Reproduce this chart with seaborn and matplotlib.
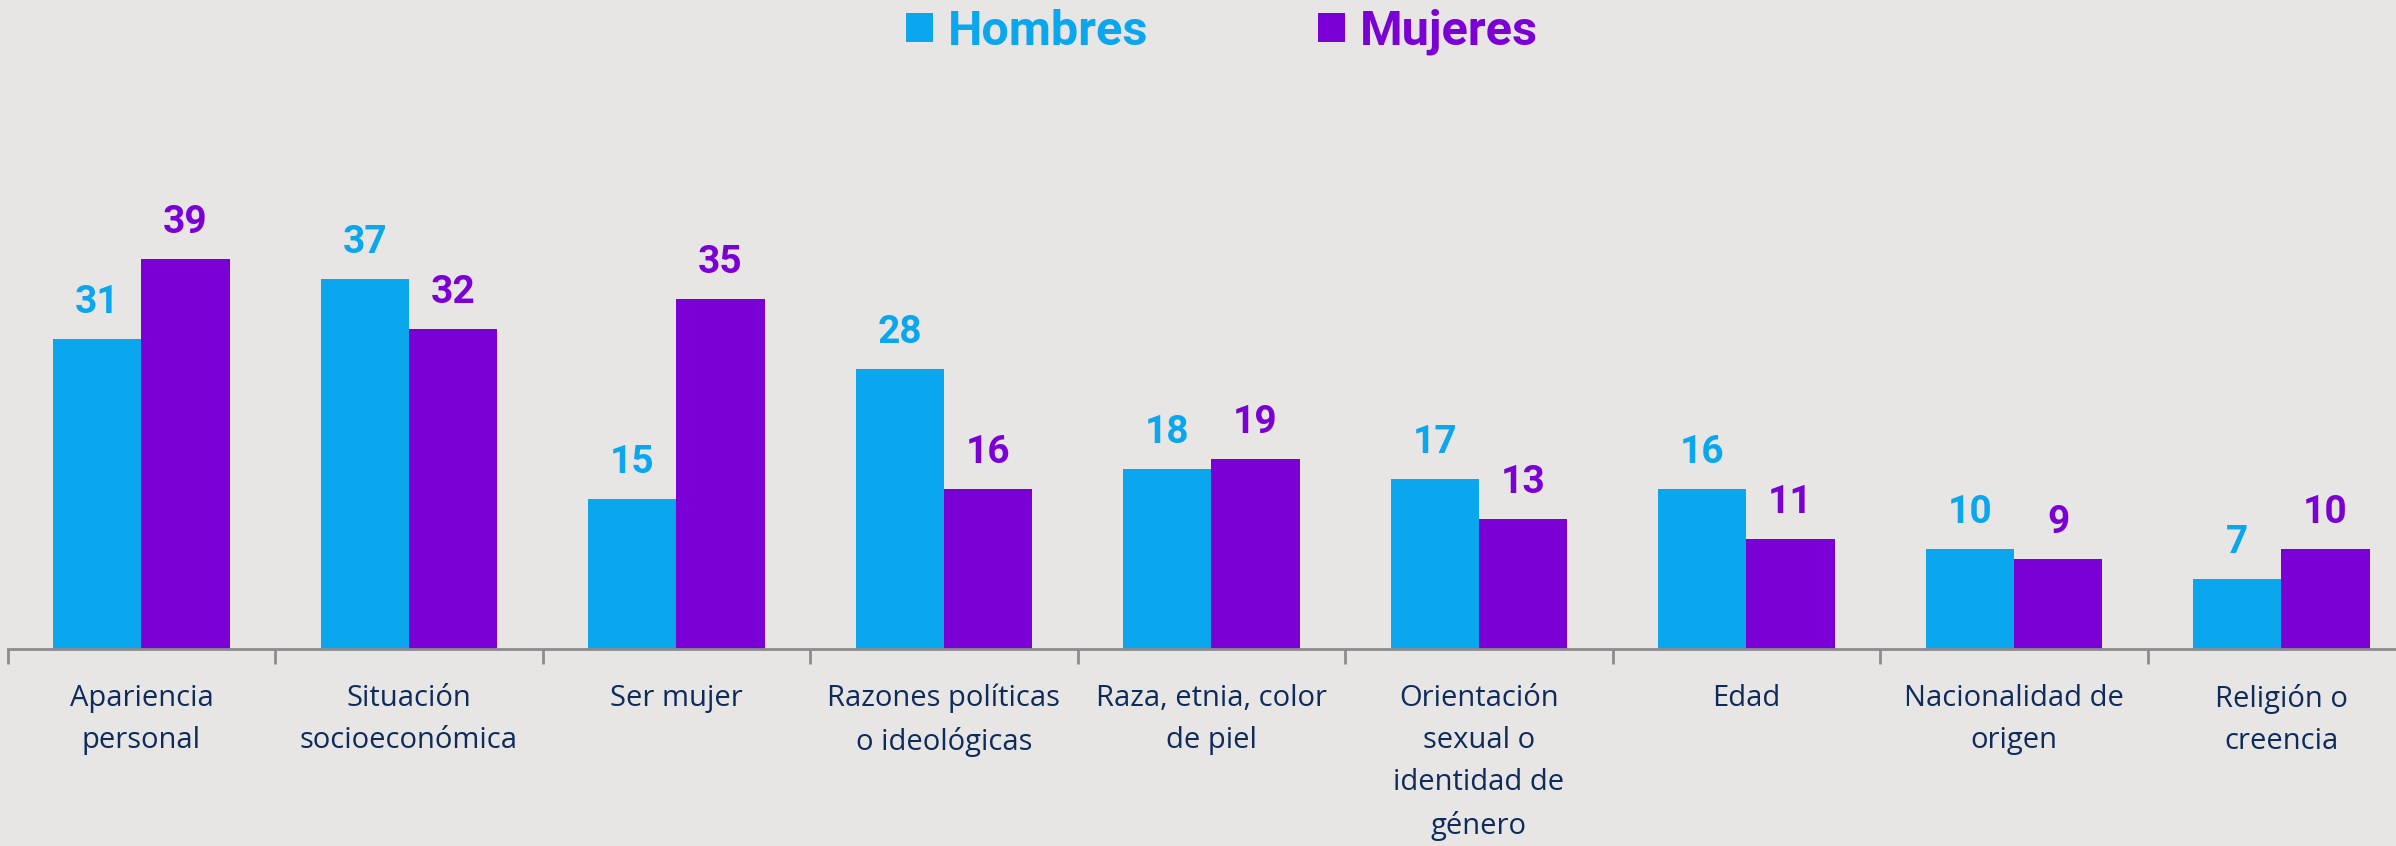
import pandas as pd
import seaborn as sns
import matplotlib.pyplot as plt
from matplotlib.patches import Patch


categorias = [
    "Apariencia\npersonal",
    "Situación\nsocioeconómica",
    "Ser mujer",
    "Razones políticas\no ideológicas",
    "Raza, etnia, color\nde piel",
    "Orientación\nsexual o\nidentidad de\ngénero",
    "Edad",
    "Nacionalidad de\norigen",
    "Religión o\ncreencia",
]
hombres = [31, 37, 15, 28, 18, 17, 16, 10, 7]
mujeres = [39, 32, 35, 16, 19, 13, 11, 9, 10]
series = ["Hombres", "Mujeres"]
colores = ["#0AA6EE", "#7B00D6"]

fondo = "#E8E6E4"
texto = "#0D2B5B"
gris = "#8C8C8C"


def build_df():
    df = pd.DataFrame({"categoria": categorias, "Hombres": hombres, "Mujeres": mujeres})
    return df.melt(id_vars="categoria", var_name="sexo", value_name="valor")


def draw():
    sns.set_theme(style="white")
    plt.rcParams["font.family"] = ["Open Sans", "DejaVu Sans"]

    fig = plt.figure(figsize=(23.96, 8.46), dpi=100, facecolor=fondo)
    # los ejes se salen un poco por la derecha, como en el original
    ax = fig.add_axes([0.0032, 0.2329, 1.0048, 0.532])
    ax.set_facecolor(fondo)

    sns.barplot(data=build_df(), x="categoria", y="valor", hue="sexo",
                hue_order=series, palette=colores, saturation=1,
                width=0.66, legend=False, linewidth=0, ax=ax)

    ax.set_xlim(-0.5, len(categorias) - 0.5)
    ax.set_ylim(0, 45)

    for cont, col in zip(ax.containers, colores):
        ax.bar_label(cont, padding=13, color=col, fontsize=28,
                     fontweight="bold", family="Roboto")

    # ticks en los bordes de cada categoria, etiquetas centradas
    ax.set_xticks([i - 0.5 for i in range(len(categorias) + 1)])
    ax.set_xticklabels([])
    ax.set_xticks(range(len(categorias)), minor=True)
    ax.set_xticklabels(categorias, minor=True, fontsize=21, color=texto,
                       linespacing=1.6)
    ax.tick_params(axis="x", which="major", length=11, width=2, color=gris,
                   bottom=True)
    ax.tick_params(axis="x", which="minor", length=0, pad=25)
    ax.set_yticks([])
    ax.set_xlabel("")
    ax.set_ylabel("")

    for s in ["left", "right", "top"]:
        ax.spines[s].set_visible(False)
    ax.spines["bottom"].set_color(gris)
    ax.spines["bottom"].set_linewidth(2)

    handles = [Patch(facecolor=c, edgecolor="none") for c in colores]
    fig.legend(handles, series, loc="center", bbox_to_anchor=(0.51, 0.962),
               ncol=2, frameon=False, labelcolor=colores,
               prop={"family": "Roboto", "weight": "bold", "size": 35},
               handlelength=0.55, handleheight=0.55, handletextpad=0.3,
               columnspacing=3.5)

    fig.savefig("out.png", dpi=100, facecolor=fondo)


if __name__ == "__main__":
    draw()
